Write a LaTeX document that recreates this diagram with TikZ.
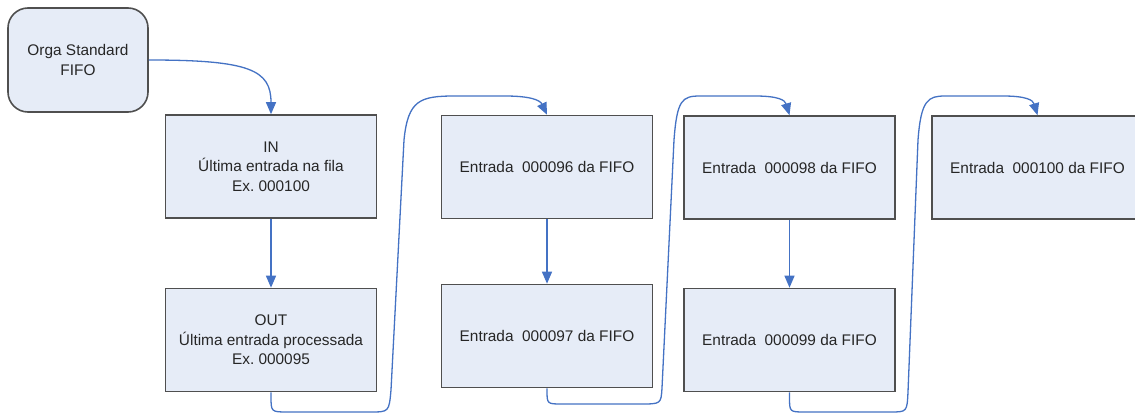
\documentclass[tikz,border=0pt]{standalone}
\usepackage{fontspec}
\setmainfont{Liberation Sans}
\usetikzlibrary{arrows.meta}
\frenchspacing
\definecolor{boxfill}{HTML}{E6ECF7}
\definecolor{boxline}{HTML}{4F4F4F}
\definecolor{flow}{HTML}{4472C4}
\tikzset{
  entry/.style={draw=boxline, line width=1.6pt, fill=boxfill, minimum width=211pt,
    minimum height=103pt, inner sep=0pt, align=center,
    font=\fontsize{15.4pt}{19.5pt}\selectfont, text=black!85},
  startbox/.style={entry, rounded corners=20pt, minimum width=140pt, minimum height=104pt},
  conn/.style={draw=flow, line width=1.3pt, -{Triangle[length=12pt,width=10pt]}},
}
\begin{document}
\begin{tikzpicture}[x=1pt,y=-1pt]
  \clip (0,0) rectangle (1135,414);
  \fill[white] (0,0) rectangle (1135,414);

  % queue header and pointers
  \node[startbox] (orga) at (78,60) {Orga Standard\\FIFO};
  \node[entry] (in)  at (271,166.5) {IN\\Última entrada na fila\\Ex. 000100};
  \node[entry] (out) at (271,340) {OUT\\Última entrada processada\\Ex. 000095};

  % queue entries
  \node[entry] (e96)  at (547,167)    {Entrada~~000096 da FIFO};
  \node[entry] (e97)  at (547,336)    {Entrada~~000097 da FIFO};
  \node[entry] (e98)  at (789.5,167.5) {Entrada~~000098 da FIFO};
  \node[entry] (e99)  at (789.5,340)  {Entrada~~000099 da FIFO};
  \node[entry] (e100) at (1037.5,167.5) {Entrada~~000100 da FIFO};

  % connectors
  \draw[conn] (orga.east) .. controls (250,60) and (271,70) .. (in.north);
  \draw[conn] (in) -- (out);
  \draw[conn] (e96) -- (e97);
  \draw[conn] (e98) -- (e99);

  \draw[conn] (out.south) -- (271,396) .. controls (271,412) .. (288,412) -- (370,412)
    .. controls (389,412) .. (391,390) -- (404,140)
    .. controls (408,100) and (420,96) .. (455,96) -- (505,96)
    .. controls (530,96) and (540,100) .. (e96.north);
  \draw[conn] (e97.south) -- (547,390) .. controls (547,404) .. (562,404) -- (640,404)
    .. controls (661,404) .. (662,388) -- (674,140)
    .. controls (677,100) and (682,96) .. (700,96) -- (755,96)
    .. controls (778,96) and (785,100) .. (e98.north);
  \draw[conn] (e99.south) -- (789.5,397) .. controls (789.5,412) .. (805,412) -- (890,412)
    .. controls (907,412) .. (908,392) -- (918,140)
    .. controls (921,100) and (928,96) .. (945,96) -- (1003,96)
    .. controls (1026,96) and (1033,100) .. (e100.north);
\end{tikzpicture}
\end{document}
